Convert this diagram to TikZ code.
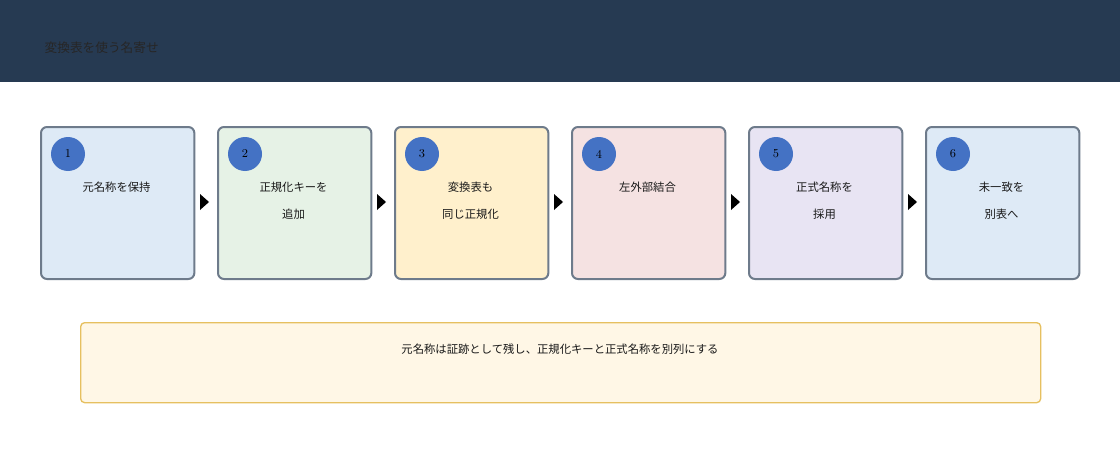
\documentclass[tikz,border=0pt]{standalone}
\usepackage{fontspec}
\newfontfamily\jp{Noto Sans CJK JP}
\definecolor{numc}{HTML}{4472C4}
\definecolor{bd}{HTML}{6E7B8B}
\definecolor{hdr}{HTML}{263A52}
\definecolor{notef}{HTML}{FFF7E6}
\definecolor{noted}{HTML}{E6C060}
\begin{document}
\begin{tikzpicture}[x=0.75pt,y=-0.75pt,
 box/.style={draw=bd,line width=1.5pt,rounded corners=4.5pt,minimum width=115pt,minimum height=114pt,anchor=north west,inner sep=0pt},
 num/.style={circle,fill=numc,minimum size=25.5pt,inner sep=0pt,font=\fontsize{9}{10}\selectfont},
 lab/.style={font=\jp\fontsize{8.5}{10}\selectfont,text=black!90}]
\useasboundingbox (0,0) rectangle (1120,460);
\fill[white] (0,0) rectangle (1120,460);
\fill[hdr] (0,0) rectangle (1120,82);
\node[anchor=west,font=\jp\fontsize{9.5}{11}\selectfont,text=black!85] (title) at (40,48) {変換表を使う名寄せ};
\foreach \i/\c/\a/\b in {1/DEEAF6/元名称を保持/,2/E6F2E6/正規化キーを/追加,3/FFF0CC/変換表も/同じ正規化,4/F5E2E2/左外部結合/,5/E8E4F3/正式名称を/採用,6/DEEAF6/未一致を/別表へ}{
  \pgfmathsetmacro\xx{40+(\i-1)*177}
  \definecolor{fc}{HTML}{\c}
  \node[box,fill=fc] (b\i) at (\xx,126) {};
  \node[num] (n\i) at (\xx+28,154) {\i};
  \node[lab] (t\i) at (\xx+76.5,187) {\a};
  \node[lab] (u\i) at (\xx+76.5,214) {\b};
}
\foreach \i in {1,...,5}{
  \pgfmathsetmacro\ax{200+(\i-1)*177}
  \fill (\ax,194) -- (\ax+9,202) -- (\ax,210) -- cycle;
}
\node[anchor=north west,draw=noted,fill=notef,minimum width=720pt,minimum height=60pt,inner sep=0pt,rounded corners=3pt,line width=1pt] (note) at (80,322) {};
\node[lab] (notet) at (560,349) {元名称は証跡として残し、正規化キーと正式名称を別列にする};
\end{tikzpicture}
\end{document}
